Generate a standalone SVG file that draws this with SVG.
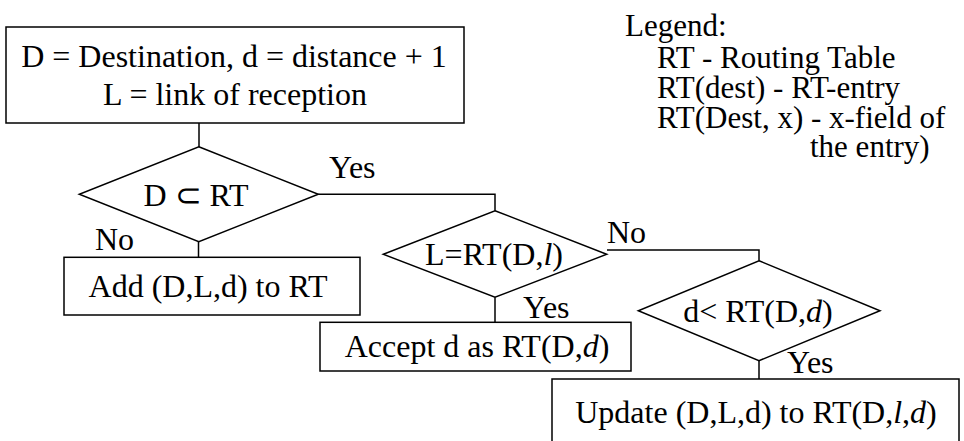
<svg xmlns="http://www.w3.org/2000/svg" width="964" height="441" viewBox="0 0 964 441">
<style>
.s{fill:#fff;stroke:#000;stroke-width:1.5}
.c{fill:none;stroke:#000;stroke-width:1.5}
text{font-family:"Liberation Serif","Times New Roman",serif;font-size:32px;fill:#000}
.m{text-anchor:middle}
.i{font-style:italic}
.lg{font-size:31px}
</style>
<rect width="964" height="441" fill="#fff"/>
<g id="connectors">
<path class="c" d="M199,123 V147"/>
<path class="c" d="M198.5,241.7 V257.3"/>
<path class="c" d="M318.3,194.3 H495 V210.7"/>
<path class="c" d="M495,297.3 V322.3"/>
<path class="c" d="M607,250 H759 V260.7"/>
<path class="c" d="M759,360.7 V379"/>
</g>
<g id="start">
<rect class="s" x="6" y="27" width="458" height="96"/>
<text class="m" x="234" y="67">D = Destination, d = distance + 1</text>
<text class="m" x="235" y="105">L = link of reception</text>
</g>
<g id="dec1">
<polygon class="s" points="198.8,146.7 318.3,194.3 198.8,241.7 79.3,194.3"/>
<text class="m" x="196" y="206">D ⊂ RT</text>
</g>
<g id="add">
<rect class="s" x="64" y="257.3" width="296" height="57.7"/>
<text class="m" x="208" y="297">Add (D,L,d) to RT</text>
</g>
<g id="dec2">
<polygon class="s" points="495,210.7 606.7,254.3 495,297.3 383.3,254.3"/>
<text class="m" x="494" y="265">L=RT(D,<tspan class="i">l</tspan>)</text>
</g>
<g id="accept">
<rect class="s" x="320" y="322.3" width="311" height="48.7"/>
<text class="m" x="477" y="357">Accept d as RT(D,<tspan class="i">d</tspan>)</text>
</g>
<g id="dec3">
<polygon class="s" points="759,260.7 880,310.7 759,360.7 638.3,310.7"/>
<text class="m" x="758" y="322">d&lt; RT(D,<tspan class="i">d</tspan>)</text>
</g>
<g id="update">
<rect class="s" x="552" y="379" width="407" height="70"/>
<text class="m" x="756" y="423">Update (D,L,d) to RT(D,<tspan class="i">l</tspan>,<tspan class="i">d</tspan>)</text>
</g>
<g id="labels">
<text x="329" y="178">Yes</text>
<text x="95" y="250">No</text>
<text x="607" y="243">No</text>
<text x="523" y="318">Yes</text>
<text x="787" y="373">Yes</text>
</g>
<g id="legend">
<text class="lg" x="625" y="36">Legend:</text>
<text class="lg" x="657" y="68">RT - Routing Table</text>
<text class="lg" x="657" y="98">RT(dest) - RT-entry</text>
<text class="lg" x="657" y="128">RT(Dest, x) - x-field of</text>
<text class="lg" x="810" y="157">the entry)</text>
</g>
</svg>
